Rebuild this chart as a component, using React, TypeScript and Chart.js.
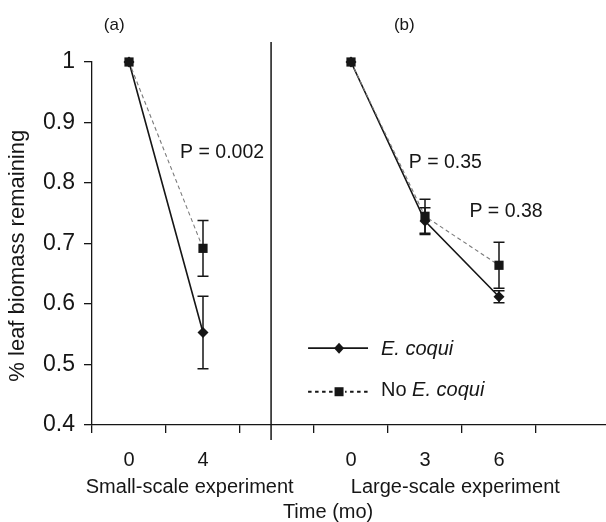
import { useEffect, useRef } from 'react';
import { Chart, registerables } from 'chart.js';

Chart.register(...registerables);

const FONT = '"Liberation Sans", Arial, Helvetica, sans-serif';
const INK = '#161616';

// Categories along the shared x axis (two panels, with an empty slot between and after)
const categories = ['0', '4', '', '0', '3', '6', ''];

// Series values (fraction of leaf biomass remaining)
const eCoqui = [1.0, 0.553, null, 1.0, 0.737, 0.612, null];
const eCoquiErr = [0, 0.06, null, 0, 0.022, 0.01, null];
const noECoqui = [1.0, 0.692, null, 1.0, 0.745, 0.664, null];
const noECoquiErr = [0, 0.046, null, 0, 0.028, 0.038, null];

// Y axis range
const yMin = 0.4;
const yMax = 1.0;
const yStep = 0.1;

// P-value annotations (x in category index units, y in data units)
const pTexts = ['P = 0.002', 'P = 0.35', 'P = 0.38'];
const pX = [0.69, 3.78, 4.6];
const pY = [0.85, 0.833, 0.752];

// Panel labels
const panelTexts = ['(a)', '(b)'];
const panelX = [-0.2, 3.72];

// Group labels under the x axis
const groupTexts = ['Small-scale experiment', 'Large-scale experiment'];
const groupX = [0.82, 4.41];
const axisTitle = 'Time (mo)';
const axisTitleX = 2.69;
const dividerX = 1.92;

export default function App() {
  const ref = useRef<HTMLCanvasElement>(null);

  useEffect(() => {
    if (!ref.current) return;

    const annot = {
      id: 'annot',
      afterDatasetsDraw(chart: any) {
        const ctx = chart.ctx;
        const ys = chart.scales.y;
        const errs = [noECoquiErr, eCoquiErr];
        const vals = [noECoqui, eCoqui];
        ctx.save();
        ctx.strokeStyle = INK;
        ctx.lineWidth = 1.5;
        errs.forEach((err, di) => {
          const meta = chart.getDatasetMeta(di);
          err.forEach((e, j) => {
            const v = vals[di][j];
            if (e == null || v == null || e === 0) return;
            const x = meta.data[j].x;
            const yt = ys.getPixelForValue(v + e);
            const yb = ys.getPixelForValue(v - e);
            ctx.beginPath();
            ctx.moveTo(x, yt);
            ctx.lineTo(x, yb);
            ctx.moveTo(x - 5.5, yt);
            ctx.lineTo(x + 5.5, yt);
            ctx.moveTo(x - 5.5, yb);
            ctx.lineTo(x + 5.5, yb);
            ctx.stroke();
          });
        });
        ctx.restore();
      },
      afterDraw(chart: any) {
        const ctx = chart.ctx;
        const xs = chart.scales.x;
        const ys = chart.scales.y;
        const ca = chart.chartArea;
        ctx.save();
        ctx.fillStyle = INK;
        ctx.strokeStyle = INK;

        // divider between panels
        const dx = xs.getPixelForValue(dividerX);
        ctx.lineWidth = 1.5;
        ctx.beginPath();
        ctx.moveTo(dx, ca.top - 20);
        ctx.lineTo(dx, ca.bottom + 15);
        ctx.stroke();

        // P-values
        ctx.font = `19.5px ${FONT}`;
        ctx.textAlign = 'left';
        ctx.textBaseline = 'middle';
        pTexts.forEach((t, i) => {
          ctx.fillText(t, xs.getPixelForValue(pX[i]), ys.getPixelForValue(pY[i]));
        });

        // Panel labels
        ctx.font = `17px ${FONT}`;
        ctx.textAlign = 'center';
        panelTexts.forEach((t, i) => {
          ctx.fillText(t, xs.getPixelForValue(panelX[i]), ca.top - 37);
        });

        // Group labels and axis title
        ctx.font = `20px ${FONT}`;
        groupTexts.forEach((t, i) => {
          ctx.fillText(t, xs.getPixelForValue(groupX[i]), ca.bottom + 62);
        });
        ctx.fillText(axisTitle, xs.getPixelForValue(axisTitleX), ca.bottom + 87);

        // Legend
        const lx1 = xs.getPixelForValue(2.42);
        const lx2 = xs.getPixelForValue(3.23);
        const lm = (lx1 + lx2) / 2 + 1;
        const ltx = xs.getPixelForValue(3.405);
        const r1 = ys.getPixelForValue(0.527);
        const r2 = ys.getPixelForValue(0.455);
        // row 1: solid + diamond
        ctx.lineWidth = 1.6;
        ctx.beginPath();
        ctx.moveTo(lx1, r1);
        ctx.lineTo(lx2, r1);
        ctx.stroke();
        ctx.beginPath();
        ctx.moveTo(lm, r1 - 5.5);
        ctx.lineTo(lm + 5, r1);
        ctx.lineTo(lm, r1 + 5.5);
        ctx.lineTo(lm - 5, r1);
        ctx.closePath();
        ctx.fill();
        // row 2: dashed + square
        ctx.lineWidth = 2;
        ctx.setLineDash([3.5, 3.5]);
        ctx.beginPath();
        ctx.moveTo(lx1, r2);
        ctx.lineTo(lx2, r2);
        ctx.stroke();
        ctx.setLineDash([]);
        ctx.fillStyle = '#fff';
        ctx.fillRect(lm - 6, r2 - 6, 12, 12);
        ctx.fillStyle = INK;
        ctx.fillRect(lm - 4.5, r2 - 4.5, 9, 9);

        ctx.textAlign = 'left';
        ctx.textBaseline = 'middle';
        ctx.font = `italic 20px ${FONT}`;
        ctx.fillText('E. coqui', ltx, r1 + 1);
        ctx.font = `20px ${FONT}`;
        const no = 'No ';
        ctx.fillText(no, ltx, r2 - 1);
        const w = ctx.measureText(no).width;
        ctx.font = `italic 20px ${FONT}`;
        ctx.fillText('E. coqui', ltx + w, r2 - 1);

        ctx.restore();
      },
    };

    const chart = new Chart(ref.current, {
      type: 'line',
      data: {
        labels: categories,
        datasets: [
          {
            label: 'No E. coqui',
            data: noECoqui,
            borderColor: '#7a7a7a',
            borderWidth: 1.1,
            borderDash: [4, 3],
            pointStyle: 'rect',
            pointRadius: 6.5,
            pointBackgroundColor: INK,
            pointBorderColor: INK,
            pointBorderWidth: 0,
            spanGaps: false,
            clip: false,
          },
          {
            label: 'E. coqui',
            data: eCoqui,
            borderColor: INK,
            borderWidth: 1.6,
            pointStyle: 'rectRot',
            pointRadius: 5.5,
            pointBackgroundColor: INK,
            pointBorderColor: INK,
            pointBorderWidth: 0,
            spanGaps: false,
            clip: false,
          },
        ],
      },
      options: {
        animation: false,
        responsive: false,
        devicePixelRatio: 1,
        layout: { padding: { left: 0, right: 10, top: 62, bottom: 0 } },
        plugins: {
          legend: { display: false },
          tooltip: { enabled: false },
        },
        scales: {
          x: {
            type: 'category',
            offset: true,
            grid: {
              offset: true,
              drawOnChartArea: false,
              drawTicks: true,
              tickLength: 8,
              color: INK,
              lineWidth: 1.3,
            },
            border: { display: true, color: INK, width: 1.3 },
            ticks: {
              font: { family: FONT, size: 20 },
              color: INK,
              padding: 15,
              maxRotation: 0,
              autoSkip: false,
            },
            afterFit: (s: any) => {
              s.height = 97;
            },
          },
          y: {
            min: yMin,
            max: yMax,
            ticks: {
              stepSize: yStep,
              font: { family: FONT, size: 23 },
              color: INK,
              padding: 9,
              callback: (v: any) => String(Number(Number(v).toFixed(1))),
            },
            grid: {
              drawOnChartArea: false,
              drawTicks: true,
              tickLength: 8,
              color: INK,
              lineWidth: 1.3,
            },
            border: { display: true, color: INK, width: 1.3 },
            title: {
              display: true,
              text: '% leaf biomass remaining    ',
              font: { family: FONT, size: 22 },
              color: INK,
              padding: { top: 5, bottom: 0 },
            },
            afterFit: (s: any) => {
              s.width = 92;
            },
          },
        },
      },
      plugins: [annot],
    } as any);

    return () => chart.destroy();
  }, []);

  return (
    <div
      style={{
        position: 'absolute',
        left: 0,
        top: 0,
        width: 606,
        height: 522,
        overflow: 'hidden',
        background: '#fff',
      }}
    >
      <canvas ref={ref} width={620} height={522} style={{ width: 620, height: 522, display: 'block' }} />
    </div>
  );
}
